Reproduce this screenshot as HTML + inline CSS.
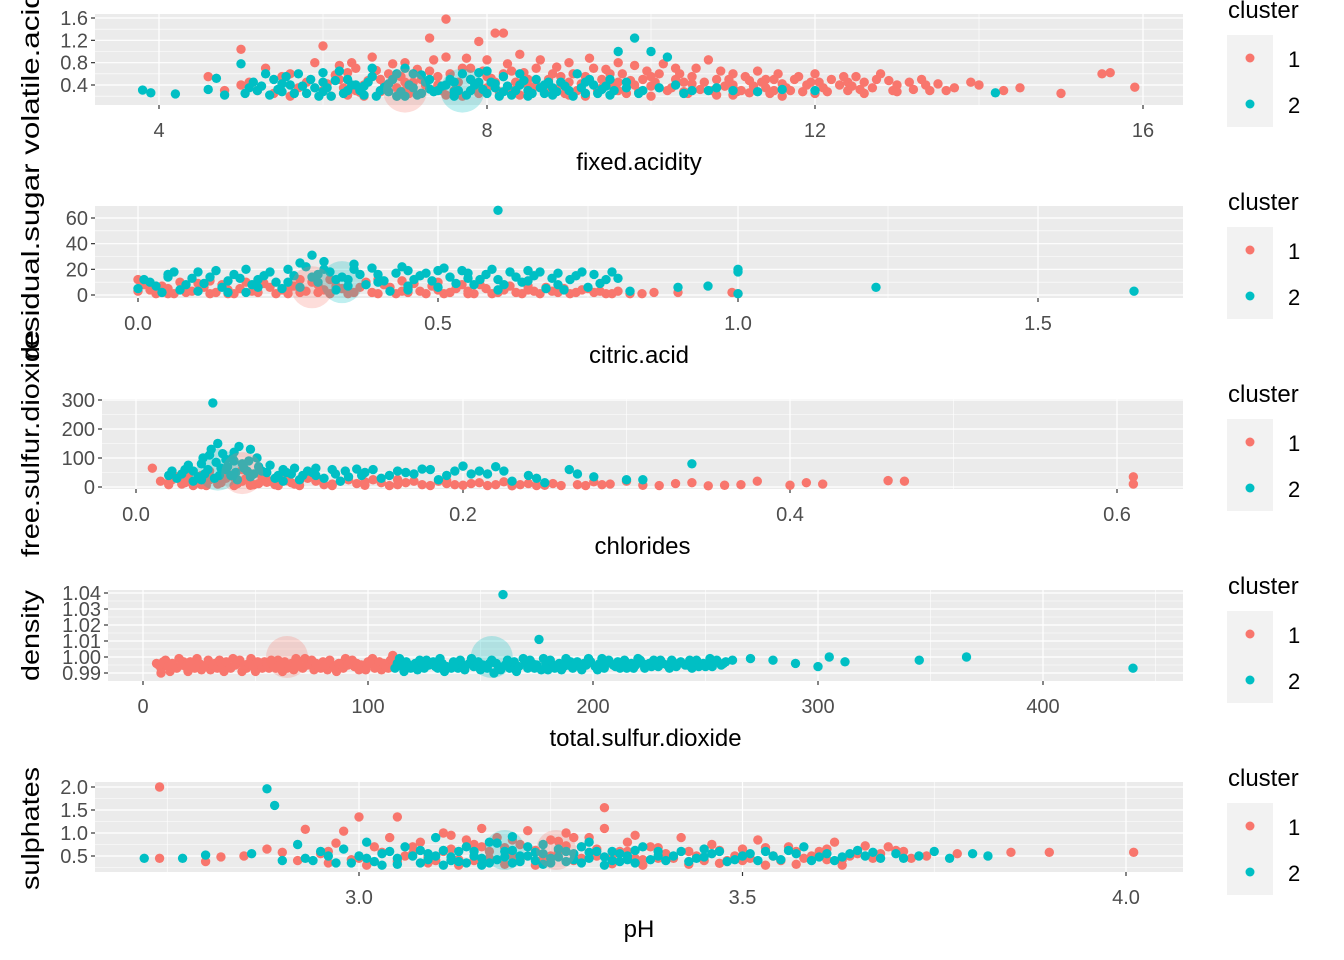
<!DOCTYPE html>
<html><head><meta charset="utf-8"><style>
html,body{margin:0;padding:0;background:#fff;}
svg{display:block;font-family:"Liberation Sans",Arial,sans-serif;}
</style></head><body>
<svg id="chart" width="1344" height="960" viewBox="0 0 1344 960"></svg>
<script>
// ---------- data ----------
const p1Red=[[4.6,0.55],[4.8,0.3],[5.0,1.04],[5.1,0.45],[5.3,0.7],[5.4,0.25],[5.6,0.6],[5.7,0.35],[5.9,0.8],[6.0,1.1],[6.0,0.3],[6.2,0.5],[6.3,0.22],[6.4,0.7],[6.5,0.4],[6.6,0.9],[6.7,0.28],[6.8,0.6],[6.9,0.35],[7.0,0.8],[7.1,0.45],[7.2,0.25],[7.3,1.24],[7.3,0.65],[7.4,0.4],[7.5,1.58],[7.5,0.9],[7.6,0.3],[7.7,0.7],[7.8,0.5],[7.9,1.18],[7.9,0.25],[8.0,0.85],[8.1,1.33],[8.1,0.45],[8.2,1.33],[8.2,0.6],[8.3,0.3],[8.4,0.95],[8.5,0.5],[8.6,0.7],[8.7,0.28],[8.8,0.6],[8.9,0.4],[9.0,0.8],[9.1,0.3],[9.2,0.55],[9.3,0.7],[9.4,0.35],[9.5,0.6],[9.6,0.45],[9.7,0.25],[9.8,0.75],[9.9,0.5],[10.0,0.38],[10.1,0.6],[10.2,0.3],[10.3,0.7],[10.4,0.45],[10.5,0.55],[10.6,0.32],[10.7,0.85],[10.8,0.5],[10.9,0.38],[11.0,0.6],[11.1,0.3],[11.2,0.48],[11.3,0.65],[11.4,0.35],[11.5,0.5],[11.6,0.42],[11.7,0.3],[11.8,0.55],[11.9,0.4],[12.0,0.6],[12.1,0.35],[12.2,0.5],[12.3,0.4],[12.4,0.3],[12.5,0.55],[12.6,0.45],[12.7,0.35],[12.8,0.6],[12.9,0.48],[13.0,0.4],[13.2,0.32],[13.3,0.5],[13.5,0.42],[13.7,0.35],[14.0,0.4],[14.3,0.3],[15.0,0.25],[15.5,0.6],[15.6,0.62],[15.9,0.36],[6.1,0.2],[6.4,0.3],[6.9,0.2],[7.2,0.5],[7.7,0.2],[8.0,0.35],[8.4,0.22],[8.8,0.3],[9.2,0.2],[9.6,0.3],[10.0,0.2],[10.4,0.28],[10.8,0.22],[11.2,0.26],[11.6,0.2],[12.0,0.25],[12.6,0.25],[13.0,0.28],[10.5,0.3],[11.0,0.4],[9.0,0.45],[8.6,0.4],[7.4,0.55],[6.7,0.5],[6.3,0.62],[5.8,0.45],[5.2,0.3],[9.8,0.4],[10.3,0.5],[11.4,0.5],[12.4,0.45],[13.4,0.3],[7.0,0.3],[7.9,0.4],[8.9,0.55],[9.4,0.5]];
const p1RedCore=[[6.05,0.42],[6.15,0.58],[6.25,0.35],[6.35,0.8],[6.45,0.27],[6.55,0.48],[6.65,0.66],[6.75,0.38],[6.85,0.78],[6.95,0.55],[7.05,0.25],[7.15,0.68],[7.25,0.4],[7.35,0.85],[7.45,0.3],[7.55,0.6],[7.65,0.45],[7.75,0.88],[7.85,0.35],[7.95,0.65],[8.05,0.52],[8.15,0.28],[8.25,0.78],[8.35,0.45],[8.45,0.62],[8.55,0.32],[8.65,0.85],[8.75,0.5],[8.85,0.72],[8.95,0.25],[9.05,0.6],[9.15,0.42],[9.25,0.88],[9.35,0.3],[9.45,0.68],[9.55,0.38],[9.65,0.6],[9.75,0.48],[9.85,0.28],[9.95,0.65],[10.05,0.45],[10.15,0.78],[10.25,0.35],[10.35,0.6],[10.45,0.25],[10.55,0.7],[10.65,0.45],[10.75,0.3],[10.85,0.65],[10.95,0.5],[11.05,0.28],[11.15,0.55],[11.25,0.38],[11.35,0.45],[11.45,0.25],[11.55,0.6],[11.65,0.35],[11.75,0.5],[11.85,0.28],[11.95,0.45],[12.15,0.28],[12.35,0.55],[12.55,0.32],[12.75,0.5],[12.95,0.3],[13.15,0.45],[13.35,0.4],[13.6,0.3],[13.9,0.45],[14.5,0.35],[12.05,0.45],[12.45,0.38],[6.5,0.2],[7.0,0.45],[7.5,0.22],[8.0,0.55],[8.5,0.4],[9.0,0.22],[9.5,0.4],[10.0,0.55],[10.5,0.42],[11.0,0.22],[11.5,0.3],[5.5,0.55],[5.0,0.4],[5.6,0.2],[6.2,0.75],[7.8,0.7],[8.3,0.65],[9.6,0.8]];
const p1Teal=[[3.8,0.31],[3.9,0.26],[4.2,0.24],[4.6,0.32],[4.7,0.52],[4.8,0.22],[5.0,0.78],[5.1,0.35],[5.2,0.3],[5.4,0.5],[5.5,0.28],[5.6,0.4],[5.7,0.6],[5.8,0.25],[5.9,0.35],[6.0,0.45],[6.1,0.2],[6.2,0.65],[6.3,0.3],[6.4,0.4],[6.5,0.22],[6.6,0.55],[6.7,0.3],[6.8,0.42],[6.9,0.2],[7.0,0.7],[7.1,0.35],[7.2,0.25],[7.3,0.5],[7.4,0.3],[7.5,0.4],[7.6,0.2],[7.7,0.6],[7.8,0.3],[7.9,0.45],[8.0,0.25],[8.1,0.35],[8.2,0.55],[8.3,0.22],[8.4,0.4],[8.5,0.3],[8.6,0.5],[8.7,0.25],[8.8,0.35],[8.9,0.45],[9.0,0.3],[9.1,0.6],[9.2,0.25],[9.3,0.4],[9.4,0.32],[9.5,0.5],[9.6,1.0],[9.7,0.35],[9.8,1.24],[9.9,0.3],[10.0,1.0],[10.2,0.9],[10.3,0.4],[10.5,0.3],[10.8,0.35],[11.0,0.3],[11.3,0.28],[11.6,0.32],[12.0,0.3],[14.2,0.26],[6.0,0.28],[6.5,0.38],[7.0,0.2],[7.3,0.33],[7.8,0.5],[8.2,0.28],[8.7,0.4],[9.2,0.45],[6.3,0.5],[5.5,0.42],[7.6,0.45],[8.5,0.2],[9.5,0.22],[6.8,0.28],[7.1,0.6],[8.0,0.65],[8.8,0.22]];
const p1TealCore=[[5.05,0.25],[5.15,0.45],[5.25,0.38],[5.35,0.22],[5.45,0.32],[5.55,0.55],[5.65,0.25],[5.75,0.38],[5.85,0.5],[5.95,0.2],[6.05,0.35],[6.15,0.48],[6.25,0.25],[6.35,0.4],[6.45,0.3],[6.55,0.45],[6.65,0.2],[6.75,0.36],[6.85,0.5],[6.95,0.28],[7.05,0.4],[7.15,0.22],[7.25,0.45],[7.35,0.28],[7.45,0.38],[7.55,0.5],[7.65,0.3],[7.75,0.22],[7.85,0.4],[7.95,0.32],[8.05,0.45],[8.15,0.2],[8.25,0.38],[8.35,0.3],[8.45,0.48],[8.55,0.25],[8.65,0.35],[8.75,0.45],[8.85,0.28],[8.95,0.38],[9.05,0.2],[9.15,0.35],[9.25,0.5],[9.35,0.25],[9.45,0.38],[9.55,0.3],[9.7,0.45],[9.85,0.25],[10.1,0.35],[10.4,0.25],[10.7,0.3],[6.0,0.62],[6.6,0.7],[7.2,0.58],[7.9,0.62],[8.4,0.6],[5.3,0.6],[6.9,0.6],[7.6,0.28],[8.1,0.42]];
const p1Centers=[[7.0,0.3],[7.7,0.3]];

const p2Red=[[0.0,12],[0.0,3],[0.01,8],[0.03,1],[0.05,5],[0.08,2],[0.1,9],[0.12,1],[0.15,4],[0.18,10],[0.2,2],[0.22,6],[0.25,1],[0.27,12],[0.28,3],[0.3,8],[0.32,1],[0.34,5],[0.36,2],[0.38,10],[0.4,1],[0.42,6],[0.44,3],[0.46,9],[0.48,1],[0.5,4],[0.52,2],[0.54,8],[0.56,1],[0.58,5],[0.6,2],[0.62,7],[0.64,1],[0.66,3],[0.68,6],[0.7,2],[0.72,1],[0.74,4],[0.76,2],[0.78,1],[0.8,3],[0.82,1],[0.86,2],[0.9,2],[0.99,2],[1.0,1],[0.05,1],[0.15,1],[0.25,4],[0.35,1],[0.45,2],[0.55,1],[0.65,4],[0.75,5],[0.2,11],[0.4,12],[0.3,2],[0.5,10]];
const p2RedCore=[[0.02,4],[0.04,7],[0.06,1],[0.07,10],[0.09,3],[0.11,6],[0.13,2],[0.14,8],[0.16,1],[0.17,5],[0.19,3],[0.21,9],[0.23,1],[0.24,4],[0.26,7],[0.27,2],[0.29,10],[0.31,4],[0.33,7],[0.35,3],[0.37,6],[0.39,2],[0.41,8],[0.43,1],[0.45,5],[0.47,3],[0.49,7],[0.51,1],[0.53,5],[0.55,3],[0.57,8],[0.59,1],[0.61,4],[0.63,2],[0.65,7],[0.67,1],[0.69,3],[0.71,5],[0.73,2],[0.77,3],[0.79,1],[0.84,1],[0.12,11],[0.32,12],[0.44,11]];
const p2Teal=[[0.0,5],[0.02,10],[0.04,2],[0.06,18],[0.08,8],[0.1,3],[0.12,14],[0.14,6],[0.16,16],[0.18,2],[0.2,12],[0.22,18],[0.24,5],[0.26,15],[0.28,22],[0.29,31],[0.3,10],[0.32,18],[0.33,4],[0.34,14],[0.36,20],[0.38,8],[0.4,16],[0.42,3],[0.44,22],[0.46,12],[0.48,17],[0.5,6],[0.52,14],[0.54,19],[0.56,8],[0.58,16],[0.6,66],[0.6,4],[0.62,18],[0.64,10],[0.66,15],[0.68,5],[0.7,17],[0.72,12],[0.74,18],[0.75,6],[0.78,12],[0.8,13],[0.82,3],[0.9,6],[0.95,7],[1.0,20],[1.0,18],[1.0,1],[1.23,6],[1.66,3],[0.1,18],[0.2,6],[0.3,16],[0.4,10],[0.5,19],[0.6,12],[0.7,8],[0.25,10],[0.35,12],[0.45,7],[0.55,13],[0.65,19],[0.15,11],[0.05,14]];
const p2TealCore=[[0.01,12],[0.03,7],[0.05,16],[0.07,4],[0.09,13],[0.11,9],[0.13,19],[0.15,2],[0.17,13],[0.19,8],[0.21,15],[0.23,10],[0.25,20],[0.27,6],[0.29,14],[0.31,20],[0.33,12],[0.35,7],[0.37,16],[0.39,21],[0.41,11],[0.43,17],[0.45,4],[0.47,15],[0.49,11],[0.51,21],[0.53,9],[0.55,17],[0.57,12],[0.59,20],[0.61,8],[0.63,14],[0.65,11],[0.67,18],[0.69,13],[0.71,4],[0.73,15],[0.76,16],[0.77,9],[0.79,18],[0.27,25],[0.31,26],[0.36,24],[0.18,20],[0.45,19]];
const p2Centers=[[0.29,6],[0.34,10]];

const p3Red=[[0.01,65],[0.015,20],[0.02,8],[0.025,35],[0.03,15],[0.035,5],[0.04,40],[0.045,25],[0.05,10],[0.055,30],[0.06,5],[0.065,20],[0.07,45],[0.075,12],[0.08,25],[0.085,8],[0.09,30],[0.095,15],[0.1,5],[0.11,20],[0.12,10],[0.13,25],[0.14,6],[0.15,15],[0.16,8],[0.17,20],[0.18,5],[0.19,12],[0.2,6],[0.21,15],[0.22,8],[0.23,4],[0.24,12],[0.25,6],[0.26,5],[0.27,8],[0.29,10],[0.31,6],[0.33,12],[0.34,15],[0.35,4],[0.37,8],[0.38,20],[0.4,6],[0.41,15],[0.42,10],[0.47,20],[0.46,22],[0.61,35],[0.61,10],[0.02,15],[0.03,28],[0.04,8],[0.05,20],[0.06,32],[0.07,6],[0.08,16],[0.1,22],[0.12,5],[0.14,18],[0.16,25],[0.19,22],[0.23,16],[0.28,18],[0.3,20],[0.36,6]];
const p3RedCore=[[0.022,25],[0.028,10],[0.032,40],[0.038,18],[0.043,5],[0.047,30],[0.052,15],[0.057,42],[0.062,12],[0.067,28],[0.072,8],[0.077,35],[0.082,20],[0.087,5],[0.092,22],[0.097,10],[0.105,30],[0.115,8],[0.125,20],[0.135,12],[0.145,25],[0.155,5],[0.165,15],[0.175,8],[0.185,20],[0.195,8],[0.205,12],[0.215,5],[0.225,18],[0.235,8],[0.245,5],[0.255,12],[0.275,5],[0.285,8],[0.32,5],[0.045,55],[0.055,50],[0.065,60]];
const p3Teal=[[0.02,40],[0.025,30],[0.03,60],[0.035,20],[0.04,80],[0.042,45],[0.045,110],[0.048,30],[0.05,150],[0.052,65],[0.055,95],[0.058,40],[0.06,120],[0.062,25],[0.065,80],[0.068,55],[0.07,35],[0.075,70],[0.08,50],[0.085,30],[0.09,60],[0.095,45],[0.1,25],[0.105,55],[0.11,40],[0.12,60],[0.13,35],[0.14,50],[0.15,30],[0.16,55],[0.17,45],[0.18,60],[0.19,40],[0.2,72],[0.21,55],[0.215,45],[0.22,70],[0.23,20],[0.24,40],[0.245,30],[0.25,15],[0.265,60],[0.27,45],[0.28,35],[0.3,25],[0.31,25],[0.34,80],[0.047,290],[0.07,130],[0.11,65],[0.125,20],[0.135,62],[0.155,40],[0.175,62],[0.185,25],[0.035,55],[0.055,60],[0.04,25],[0.06,90],[0.09,20]];
const p3TealCore=[[0.022,55],[0.028,45],[0.032,75],[0.038,35],[0.041,100],[0.044,60],[0.046,130],[0.049,85],[0.051,40],[0.053,115],[0.056,70],[0.059,100],[0.061,50],[0.063,140],[0.066,65],[0.069,90],[0.072,45],[0.074,100],[0.077,55],[0.082,75],[0.087,40],[0.092,50],[0.097,65],[0.102,40],[0.108,50],[0.115,30],[0.122,45],[0.128,55],[0.138,40],[0.145,60],[0.165,50],[0.195,55],[0.205,45],[0.225,55]];
const p3Centers=[[0.065,48],[0.05,60]];

const p4Red=[[6,0.996],[8,0.993],[10,0.998],[14,0.994],[18,0.997],[20,0.991],[24,0.999],[28,0.995],[30,0.992],[34,0.998],[38,0.994],[42,0.996],[44,0.991],[48,0.999],[52,0.995],[56,0.993],[60,0.998],[62,0.991],[66,0.996],[70,0.994],[72,0.999],[76,0.992],[80,0.997],[84,0.995],[86,0.991],[90,0.999],[94,0.994],[96,0.992],[100,0.997],[104,0.995],[106,0.992],[110,0.998],[12,0.991],[16,0.999],[22,0.994],[26,0.992],[32,0.996],[36,0.991],[40,0.999],[46,0.993],[50,0.991],[54,0.997],[58,0.995],[64,0.993],[68,0.999],[74,0.996],[78,0.994],[82,0.992],[88,0.996],[92,0.997],[98,0.993],[102,0.999],[108,0.994],[111,1.001],[112,0.996],[8,0.99]];
const p4RedCore=[[7,0.995],[9,0.997],[11,0.994],[13,0.996],[15,0.993],[17,0.995],[19,0.994],[21,0.997],[23,0.993],[25,0.996],[27,0.994],[29,0.998],[31,0.995],[33,0.993],[35,0.996],[37,0.997],[39,0.993],[41,0.995],[43,0.998],[45,0.995],[47,0.996],[49,0.994],[51,0.997],[53,0.993],[55,0.996],[57,0.998],[59,0.993],[61,0.995],[63,0.997],[65,0.994],[67,0.992],[69,0.996],[71,0.993],[73,0.995],[75,0.998],[77,0.996],[79,0.993],[81,0.995],[83,0.998],[85,0.994],[87,0.996],[89,0.993],[91,0.995],[93,0.998],[95,0.996],[97,0.995],[99,0.992],[101,0.996],[103,0.993],[105,0.997],[107,0.996],[109,0.993]];
const p4Teal=[[112,0.993],[114,0.999],[118,0.995],[122,0.992],[126,0.998],[130,0.994],[134,0.991],[138,0.997],[142,0.995],[146,0.999],[150,0.992],[154,0.996],[158,0.994],[162,0.998],[166,0.991],[170,0.996],[174,0.993],[178,0.999],[182,0.995],[186,0.992],[190,0.997],[194,0.994],[198,0.999],[202,0.992],[206,0.996],[210,0.994],[214,0.998],[218,0.993],[222,0.996],[226,0.994],[230,0.998],[234,0.993],[238,0.996],[242,0.995],[246,0.998],[250,0.994],[254,0.997],[258,0.996],[116,0.991],[124,0.995],[132,0.999],[140,0.993],[148,0.996],[156,0.99],[164,0.995],[172,0.998],[180,0.992],[188,0.999],[196,0.996],[204,0.999],[212,0.993],[220,0.999],[228,0.996],[236,0.995],[244,0.993],[252,0.999],[160,1.039],[176,1.011],[270,0.999],[280,0.998],[290,0.996],[300,0.994],[305,1.0],[312,0.997],[345,0.998],[366,1.0],[440,0.993],[262,0.998]];
const p4TealCore=[[113,0.996],[115,0.994],[117,0.997],[119,0.993],[121,0.996],[123,0.998],[125,0.993],[127,0.995],[129,0.997],[131,0.993],[133,0.996],[135,0.994],[137,0.993],[139,0.995],[141,0.998],[143,0.992],[145,0.996],[147,0.994],[149,0.997],[151,0.995],[153,0.993],[155,0.998],[157,0.996],[159,0.992],[161,0.995],[163,0.993],[165,0.997],[167,0.994],[169,0.999],[171,0.993],[173,0.996],[175,0.995],[177,0.992],[179,0.996],[181,0.998],[183,0.993],[185,0.996],[187,0.994],[189,0.995],[191,0.993],[193,0.997],[195,0.992],[197,0.995],[199,0.997],[201,0.994],[203,0.996],[205,0.993],[207,0.998],[209,0.995],[211,0.997],[213,0.995],[215,0.993],[217,0.996],[219,0.995],[221,0.998],[223,0.993],[225,0.996],[227,0.998],[229,0.994],[231,0.996],[233,0.995],[235,0.998],[237,0.994],[239,0.997],[241,0.995],[243,0.998],[245,0.996],[247,0.994],[249,0.996],[251,0.995],[253,0.994],[255,0.998],[257,0.995],[259,0.997]];
const p4Centers=[[64,1.0],[155,1.0]];

const p5Red=[[2.74,2.0],[2.74,0.45],[2.8,0.38],[2.82,0.48],[2.85,0.5],[2.88,0.65],[2.9,0.58],[2.92,0.4],[2.93,1.08],[2.95,0.55],[2.97,0.78],[2.98,1.04],[3.0,0.45],[3.0,1.35],[3.02,0.7],[3.04,0.9],[3.05,1.35],[3.06,0.5],[3.08,0.8],[3.1,0.4],[3.11,1.0],[3.12,0.65],[3.14,0.85],[3.15,0.4],[3.16,1.1],[3.17,0.6],[3.18,0.9],[3.2,0.5],[3.21,0.75],[3.22,1.05],[3.24,0.45],[3.25,0.85],[3.26,0.6],[3.27,1.0],[3.28,0.4],[3.29,0.7],[3.3,0.9],[3.31,0.5],[3.32,1.1],[3.32,1.55],[3.34,0.6],[3.35,0.8],[3.36,0.45],[3.38,0.7],[3.4,0.55],[3.42,0.9],[3.44,0.5],[3.46,0.75],[3.48,0.4],[3.5,0.65],[3.52,0.85],[3.54,0.5],[3.56,0.7],[3.58,0.45],[3.6,0.6],[3.62,0.8],[3.64,0.5],[3.66,0.72],[3.68,0.55],[3.7,0.62],[3.72,0.45],[3.85,0.58],[3.9,0.58],[4.01,0.58],[2.96,0.35],[3.01,0.3],[3.09,0.35],[3.13,0.3],[3.19,0.32],[3.23,0.3],[3.33,0.33],[3.37,0.3],[3.43,0.32],[3.47,0.34],[3.53,0.3],[3.57,0.32],[3.63,0.3],[3.07,0.55],[3.16,0.7],[3.26,0.82],[3.39,0.45],[3.5,0.4],[3.61,0.42],[3.69,0.7]];
const p5RedCore=[[2.96,0.6],[2.99,0.42],[3.03,0.58],[3.05,0.38],[3.07,0.7],[3.09,0.48],[3.11,0.6],[3.13,0.42],[3.15,0.75],[3.17,0.45],[3.19,0.68],[3.21,0.4],[3.23,0.62],[3.25,0.5],[3.27,0.72],[3.29,0.45],[3.31,0.65],[3.33,0.48],[3.35,0.6],[3.37,0.42],[3.39,0.68],[3.41,0.45],[3.43,0.6],[3.45,0.4],[3.47,0.62],[3.49,0.5],[3.51,0.45],[3.53,0.68],[3.55,0.4],[3.57,0.6],[3.59,0.5],[3.61,0.65],[3.63,0.42],[3.65,0.55],[3.67,0.45],[3.71,0.6],[3.74,0.5],[3.78,0.55],[3.12,0.95],[3.2,0.85],[3.28,0.9],[3.36,0.95]];
const p5Teal=[[2.72,0.45],[2.77,0.45],[2.8,0.52],[2.86,0.55],[2.88,1.96],[2.89,1.6],[2.9,0.4],[2.92,0.75],[2.93,0.45],[2.95,0.6],[2.97,0.35],[2.98,0.65],[3.0,0.5],[3.01,0.8],[3.02,0.38],[3.04,0.6],[3.05,0.45],[3.06,0.7],[3.08,0.35],[3.09,0.55],[3.1,0.5],[3.12,0.4],[3.13,0.6],[3.14,0.35],[3.15,0.5],[3.17,0.8],[3.18,0.42],[3.19,0.6],[3.2,0.35],[3.21,0.5],[3.22,0.7],[3.23,0.4],[3.24,0.55],[3.25,0.45],[3.26,0.65],[3.27,0.38],[3.28,0.55],[3.3,0.45],[3.31,0.6],[3.33,0.4],[3.34,0.55],[3.36,0.35],[3.37,0.7],[3.39,0.5],[3.4,0.4],[3.42,0.6],[3.44,0.45],[3.46,0.55],[3.48,0.38],[3.5,0.5],[3.53,0.6],[3.55,0.42],[3.57,0.55],[3.6,0.48],[3.62,0.4],[3.64,0.55],[3.66,0.5],[3.68,0.45],[3.7,0.55],[3.73,0.5],[3.75,0.6],[3.77,0.45],[3.8,0.55],[3.82,0.5],[3.1,0.9],[3.2,0.92],[3.08,0.62],[3.14,0.7],[3.29,0.7],[3.35,0.42],[3.45,0.65],[3.58,0.7],[3.65,0.62],[3.03,0.3],[3.11,0.3],[3.16,0.3],[3.24,0.32],[3.32,0.3]];
const p5TealCore=[[2.94,0.4],[2.96,0.5],[2.99,0.35],[3.01,0.45],[3.03,0.55],[3.05,0.32],[3.07,0.5],[3.09,0.42],[3.11,0.62],[3.12,0.48],[3.13,0.38],[3.15,0.6],[3.16,0.45],[3.17,0.35],[3.19,0.48],[3.2,0.62],[3.21,0.38],[3.22,0.5],[3.23,0.58],[3.25,0.35],[3.26,0.48],[3.27,0.6],[3.28,0.42],[3.29,0.35],[3.3,0.58],[3.32,0.48],[3.33,0.6],[3.34,0.38],[3.35,0.5],[3.36,0.62],[3.38,0.42],[3.39,0.6],[3.41,0.5],[3.43,0.38],[3.45,0.48],[3.47,0.6],[3.49,0.42],[3.51,0.55],[3.52,0.4],[3.54,0.5],[3.56,0.62],[3.59,0.4],[3.61,0.55],[3.63,0.48],[3.67,0.58],[3.71,0.45],[3.24,0.75],[3.18,0.78],[3.3,0.8]];
const p5Centers=[[3.257,0.63],[3.19,0.63]];

const p1XTicks=[4,8,12,16], p1XMinor=[6,10,14], p1YTicks=[0.4,0.8,1.2,1.6], p1YMinor=[0.2,0.6,1.0,1.4];
const p2XTicks=[0,0.5,1,1.5], p2XMinor=[0.25,0.75,1.25], p2YTicks=[0,20,40,60], p2YMinor=[10,30,50];
const p3XTicks=[0,0.2,0.4,0.6], p3XMinor=[0.1,0.3,0.5], p3YTicks=[0,100,200,300], p3YMinor=[50,150,250];
const p4XTicks=[0,100,200,300,400], p4XMinor=[50,150,250,350,450], p4YTicks=[0.99,1.00,1.01,1.02,1.03,1.04], p4YMinor=[0.995,1.005,1.015,1.025,1.035];
const p5XTicks=[3.0,3.5,4.0], p5XMinor=[2.75,3.25,3.75], p5YTicks=[0.5,1.0,1.5,2.0], p5YMinor=[0.25,0.75,1.25,1.75];
const xTitles=["fixed.acidity","citric.acid","chlorides","total.sulfur.dioxide","pH"];
const clusterLabels=["1","2"];

const RED="#F8766D", TEAL="#00BFC4";
const NS="http://www.w3.org/2000/svg";
const svg=document.getElementById('chart');
function mk(tag,attrs,parent){const e=document.createElementNS(NS,tag);for(const k in attrs)e.setAttribute(k,attrs[k]);(parent||svg).appendChild(e);return e;}

const panels=[
 {L:95,R:1183,T:14,B:105,xa:[4,159,16,1143],ya:[0.4,85,1.6,18],xt:p1XTicks,xm:p1XMinor,yt:p1YTicks,ym:p1YMinor,red:[p1Red,p1RedCore],teal:[p1Teal,p1TealCore],cen:p1Centers,xf:v=>String(v),yf:v=>v.toFixed(1),cr:22},
 {L:95,R:1183,T:206,B:298,xa:[0,138,1.5,1038],ya:[0,295,60,218],xt:p2XTicks,xm:p2XMinor,yt:p2YTicks,ym:p2YMinor,red:[p2Red,p2RedCore],teal:[p2Teal,p2TealCore],cen:p2Centers,xf:v=>v.toFixed(1),yf:v=>String(v),cr:21},
 {L:102,R:1183,T:399,B:489,xa:[0,136,0.6,1117],ya:[0,487,300,400],xt:p3XTicks,xm:p3XMinor,yt:p3YTicks,ym:p3YMinor,red:[p3Red,p3RedCore],teal:[p3Teal,p3TealCore],cen:p3Centers,xf:v=>v.toFixed(1),yf:v=>String(v),cr:21},
 {L:108,R:1183,T:590,B:681,xa:[0,143,400,1043],ya:[1.0,657,1.04,593],xt:p4XTicks,xm:p4XMinor,yt:p4YTicks,ym:p4YMinor,red:[p4Red,p4RedCore],teal:[p4Teal,p4TealCore],cen:p4Centers,xf:v=>String(v),yf:v=>v.toFixed(2),cr:21},
 {L:95,R:1183,T:782,B:872,xa:[3.0,359,4.0,1126],ya:[0.5,856,2.0,787],xt:p5XTicks,xm:p5XMinor,yt:p5YTicks,ym:p5YMinor,red:[p5Red,p5RedCore],teal:[p5Teal,p5TealCore],cen:p5Centers,xf:v=>v.toFixed(1),yf:v=>v.toFixed(1),cr:20}
];

panels.forEach((p,i)=>{
 const sx=v=>p.xa[1]+(v-p.xa[0])*(p.xa[3]-p.xa[1])/(p.xa[2]-p.xa[0]);
 const sy=v=>p.ya[1]+(v-p.ya[0])*(p.ya[3]-p.ya[1])/(p.ya[2]-p.ya[0]);
 const g=mk('g',{});
 
 
 const bg=mk('rect',{x:p.L,y:p.T,width:p.R-p.L,height:p.B-p.T,fill:'#EBEBEB'},g);
 
 
 const inX=x=>x>=p.L&&x<=p.R, inY=y=>y>=p.T&&y<=p.B;
 p.ym.forEach(v=>{const y=sy(v);if(inY(y)){const l=mk('line',{x1:p.L,x2:p.R,y1:y,y2:y,stroke:'#fff','stroke-width':0.6},g);}});
 p.xm.forEach(v=>{const x=sx(v);if(inX(x)){const l=mk('line',{x1:x,x2:x,y1:p.T,y2:p.B,stroke:'#fff','stroke-width':0.6},g);}});
 p.yt.forEach(v=>{const y=sy(v);
  const l=mk('line',{x1:p.L,x2:p.R,y1:y,y2:y,stroke:'#fff','stroke-width':1.2},g);
  
  
  const t=mk('line',{x1:p.L-4,x2:p.L,y1:y,y2:y,stroke:'#333','stroke-width':1.2},g);
  
  
  const tx=mk('text',{x:p.L-7,y:y+7,'text-anchor':'end','font-size':20,fill:'#4D4D4D'},g);
  tx.textContent=p.yf(v);
  
  
 });
 p.xt.forEach(v=>{const x=sx(v);
  const l=mk('line',{x1:x,x2:x,y1:p.T,y2:p.B,stroke:'#fff','stroke-width':1.2},g);
  
  
  const t=mk('line',{x1:x,x2:x,y1:p.B,y2:p.B+4,stroke:'#333','stroke-width':1.2},g);
  
  
  const tx=mk('text',{x:x,y:p.B+32,'text-anchor':'middle','font-size':20,fill:'#4D4D4D'},g);
  tx.textContent=p.xf(v);
  
  
 });
 p.red.forEach(arr=>arr.forEach(d=>{const c=mk('circle',{cx:sx(d[0]),cy:sy(d[1]),r:4.7,fill:RED},g);
  
  }));
 p.teal.forEach(arr=>arr.forEach(d=>{const c=mk('circle',{cx:sx(d[0]),cy:sy(d[1]),r:4.7,fill:TEAL},g);
  
  }));
 p.cen.forEach((d,k)=>{const c=mk('circle',{cx:sx(d[0]),cy:sy(d[1]),r:p.cr,fill:k===0?RED:TEAL,'fill-opacity':0.25},g);
  
  });
 const xt=mk('text',{x:(p.L+p.R)/2,y:p.B+65,'text-anchor':'middle','font-size':24,fill:'#000'},g);
 xt.textContent=xTitles[i];
 
 
 const oy=192*i;
 const lt=mk('text',{x:1228,y:oy+18,'font-size':24,fill:'#000'},g);
 lt.textContent='cluster';
 
 
 const lb=mk('rect',{x:1227,y:oy+35,width:46,height:92,fill:'#F2F2F2'},g);
 
 
 clusterLabels.forEach((lab,k)=>{
  const cy=oy+58+k*46;
  const c=mk('circle',{cx:1250,cy:cy,r:4.5,fill:k===0?RED:TEAL},g);
  
  
  const t=mk('text',{x:1288,y:cy+9,'font-size':22,fill:'#000'},g);
  t.textContent=lab;
  
  
 });
});

// y-axis titles: [text, bottom y, rendered length]
const yTitles=[["residual.sugar volatile.acidity",360,400],["free.sulfur.dioxide",557,227],["density",681,91],["sulphates",890,123]];
yTitles.forEach(d=>{
 const t=mk('text',{x:0,y:0,'font-size':25,fill:'#000',textLength:d[2],lengthAdjust:'spacingAndGlyphs',transform:'translate(39,'+d[1]+') rotate(-90)'});
 t.textContent=d[0];
 
 
});
</script>
</body></html>
